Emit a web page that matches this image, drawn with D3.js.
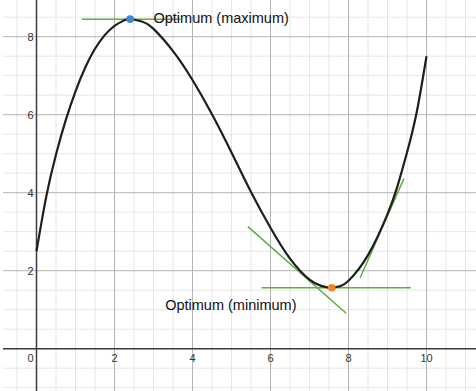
<!DOCTYPE html>
<html>
<head>
<meta charset="utf-8">
<script src="https://cdn.jsdelivr.net/npm/d3@7"></script>
<style>
html,body{margin:0;padding:0;background:#fff;}
svg{display:block;}
text{font-family:"Liberation Sans",Arial,sans-serif;}
</style>
</head>
<body>
<svg id="chart" width="476" height="391"></svg>
<script>
// Curve samples
const curveX = [0, 0.25, 0.5, 0.75, 1.0, 1.25, 1.5, 1.75, 2.0, 2.25, 2.4, 2.7, 3.0, 3.5, 4.0, 4.5, 5.0, 5.5, 6.0, 6.5, 7.0, 7.3, 7.57, 7.8, 8.0, 8.5, 9.0, 9.25, 9.5, 9.75, 10];
const curveY = [2.5, 3.9, 4.98, 5.86, 6.6, 7.21, 7.69, 8.04, 8.28, 8.42, 8.45, 8.39, 8.2, 7.63, 6.89, 6.01, 5.03, 4.02, 3.1, 2.31, 1.77, 1.61, 1.56, 1.61, 1.74, 2.4, 3.45, 4.15, 5.03, 6.07, 7.5];

// Optimum points
const optimaX = [2.4, 7.57];
const optimaY = [8.45, 1.56];
const optimaColors = ["#3d87d1", "#f5861f"];

// Tangent segments [x1, y1, x2, y2]
const tangentX1 = [1.16, 5.77, 5.42, 8.30];
const tangentY1 = [8.45, 1.56, 3.13, 1.82];
const tangentX2 = [3.69, 9.60, 7.94, 9.42];
const tangentY2 = [8.45, 1.56, 0.91, 4.36];

// Labels
const labelText = ["Optimum (maximum)", "Optimum (minimum)"];
const labelX = [3.0, 3.3];
const labelY = [8.45, 1.1];

const xTicks = [0, 2, 4, 6, 8, 10];
const yTicks = [2, 4, 6, 8];

const W = 476, H = 391;
const x = d3.scaleLinear().domain([0, 10]).range([36.5, 426.5]);
const y = d3.scaleLinear().domain([0, 8]).range([348.7, 36.7]);

const svg = d3.select("#chart");
const left = 3;

const xMin = x.invert(left), xMax = x.invert(W);
const yMin = y.invert(H), yMax = y.invert(0);

const minorX = d3.range(Math.ceil(xMin * 2) / 2, xMax, 0.5).filter(v => Math.abs(v % 2) > 1e-6);
const minorY = d3.range(Math.ceil(yMin * 2) / 2, yMax, 0.5).filter(v => Math.abs(v % 2) > 1e-6);
const majorX = d3.range(Math.ceil(xMin / 2) * 2, xMax, 2).filter(v => v !== 0);
const majorY = d3.range(Math.ceil(yMin / 2) * 2, yMax, 2).filter(v => v !== 0);

const g = svg.append("g");
g.selectAll(".mx").data(minorX).join("line")
  .attr("x1", d => x(d)).attr("x2", d => x(d)).attr("y1", 0).attr("y2", H)
  .attr("stroke", "#e6e6e6").attr("stroke-width", 1);
g.selectAll(".my").data(minorY).join("line")
  .attr("x1", left).attr("x2", W).attr("y1", d => y(d)).attr("y2", d => y(d))
  .attr("stroke", "#e6e6e6").attr("stroke-width", 1);
g.selectAll(".Mx").data(majorX).join("line")
  .attr("x1", d => x(d)).attr("x2", d => x(d)).attr("y1", 0).attr("y2", H)
  .attr("stroke", "#b4b4b4").attr("stroke-width", 1);
g.selectAll(".My").data(majorY).join("line")
  .attr("x1", left).attr("x2", W).attr("y1", d => y(d)).attr("y2", d => y(d))
  .attr("stroke", "#b4b4b4").attr("stroke-width", 1);

// axes
svg.append("line").attr("x1", left).attr("x2", W).attr("y1", y(0)).attr("y2", y(0))
  .attr("stroke", "#3c3c3c").attr("stroke-width", 1.5);
svg.append("line").attr("x1", x(0)).attr("x2", x(0)).attr("y1", 0).attr("y2", H)
  .attr("stroke", "#3c3c3c").attr("stroke-width", 1.5);

// tick labels
svg.selectAll(".xt").data(xTicks).join("text")
  .attr("x", d => d === 0 ? x(d) - 6 : x(d)).attr("y", y(0) + 13)
  .attr("text-anchor", "middle").attr("font-size", 11).attr("fill", "#333")
  .text(d => d);
svg.selectAll(".yt").data(yTicks).join("text")
  .attr("x", x(0) - 3).attr("y", d => y(d) + 4)
  .attr("text-anchor", "end").attr("font-size", 11).attr("fill", "#333")
  .text(d => d);

// tangents
svg.selectAll(".tan").data(tangentX1).join("line")
  .attr("x1", (d, i) => x(d)).attr("y1", (d, i) => y(tangentY1[i]))
  .attr("x2", (d, i) => x(tangentX2[i])).attr("y2", (d, i) => y(tangentY2[i]))
  .attr("stroke", "#5fae3e").attr("stroke-width", 1.5);

// curve
const pts = curveX.map((v, i) => [v, curveY[i]]);
const line = d3.line().x(d => x(d[0])).y(d => y(d[1])).curve(d3.curveNatural);
svg.append("path").attr("d", line(pts)).attr("fill", "none")
  .attr("stroke", "#1e1e1e").attr("stroke-width", 2.2);

// optima
svg.selectAll(".opt").data(optimaX).join("circle")
  .attr("cx", d => x(d)).attr("cy", (d, i) => y(optimaY[i])).attr("r", 3.8)
  .attr("fill", (d, i) => optimaColors[i]);

// labels
svg.selectAll(".lab").data(labelText).join("text")
  .attr("x", (d, i) => x(labelX[i])).attr("y", (d, i) => y(labelY[i]) + 4)
  .attr("font-size", 14.5).attr("fill", "#111")
  .text(d => d);
</script>
</body>
</html>
